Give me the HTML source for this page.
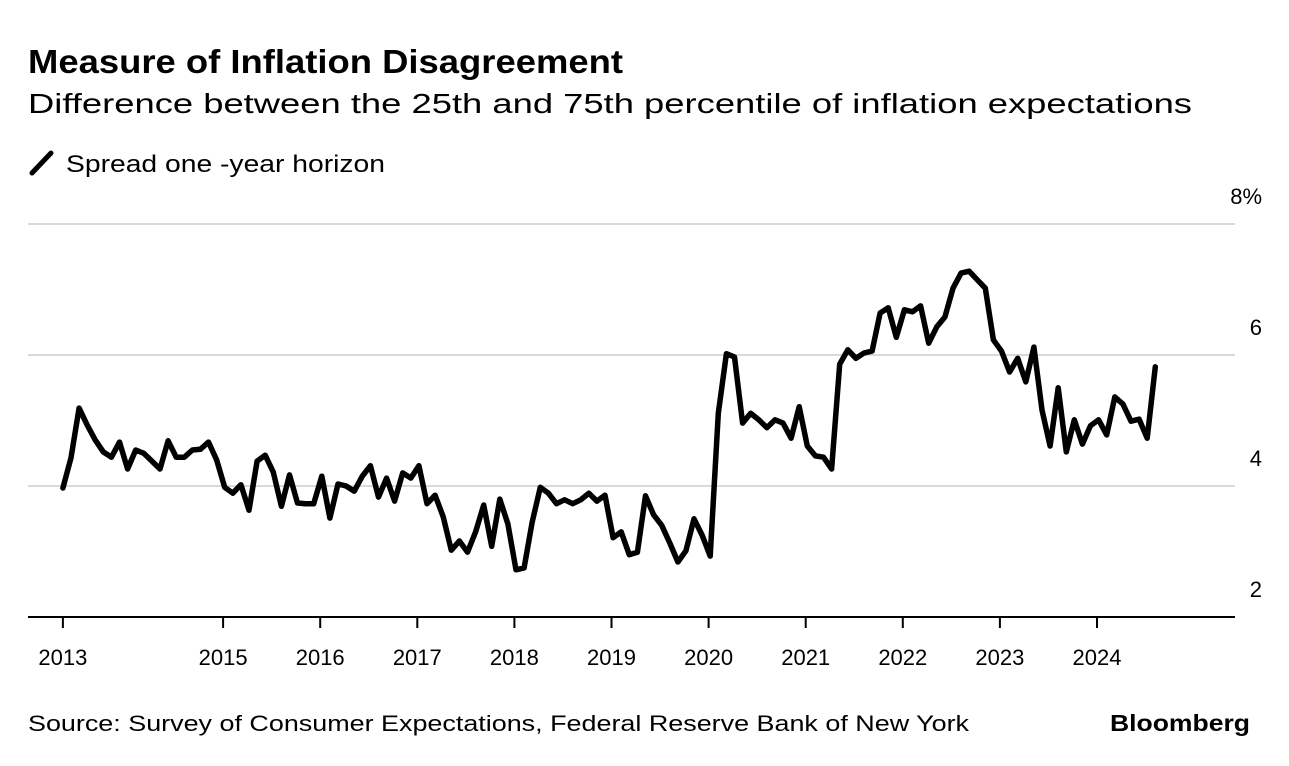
<!DOCTYPE html>
<html><head><meta charset="utf-8"><style>
html,body{margin:0;padding:0;background:#fff;}
svg{display:block;font-family:"Liberation Sans",Arial,sans-serif;}
</style></head><body>
<svg id="chart" width="1289" height="766" viewBox="0 0 1289 766">
<text x="28" y="73" font-size="33" font-weight="bold" fill="#000" textLength="595" lengthAdjust="spacingAndGlyphs">Measure of Inflation Disagreement</text>
<text x="28" y="113" font-size="28" fill="#000" textLength="1164" lengthAdjust="spacingAndGlyphs">Difference between the 25th and 75th percentile of inflation expectations</text>
<g>
<line x1="32" y1="173" x2="51" y2="153" stroke="#000" stroke-width="5" stroke-linecap="round"/>
<text x="66" y="172" font-size="24" fill="#000" textLength="319" lengthAdjust="spacingAndGlyphs">Spread one -year horizon</text>
</g>
<g id="grid"></g>
<g id="xaxis"></g>
<g id="yaxis"></g>
<path id="line" fill="none" stroke="#000" stroke-width="5.5" stroke-linejoin="round" stroke-linecap="round"/>
<text x="28" y="731" font-size="22" fill="#000" textLength="941" lengthAdjust="spacingAndGlyphs">Source: Survey of Consumer Expectations, Federal Reserve Bank of New York</text>
<text x="1250" y="731" font-size="23" font-weight="bold" fill="#000" text-anchor="end" textLength="140" lengthAdjust="spacingAndGlyphs">Bloomberg</text>
</svg>
<script>
const startYear = 2013.35;
const values = [3.97,4.43,5.19,4.93,4.70,4.52,4.44,4.67,4.26,4.55,
4.50,4.38,4.26,4.69,4.44,4.44,4.55,4.56,4.67,4.40,
3.98,3.89,4.02,3.63,4.38,4.47,4.21,3.69,4.17,3.74,
3.73,3.73,4.15,3.51,4.03,4.00,3.92,4.15,4.31,3.83,
4.12,3.77,4.20,4.12,4.31,3.73,3.86,3.53,3.02,3.16,
2.99,3.30,3.71,3.08,3.80,3.42,2.72,2.75,3.45,3.98,
3.89,3.73,3.79,3.73,3.79,3.89,3.77,3.86,3.21,3.30,
2.95,2.99,3.85,3.56,3.40,3.13,2.84,3.01,3.50,3.25,
2.93,5.11,6.02,5.97,4.96,5.11,5.01,4.89,5.01,4.96,
4.73,5.21,4.61,4.46,4.44,4.26,5.86,6.08,5.95,6.03,
6.06,6.64,6.72,6.27,6.69,6.66,6.75,6.18,6.43,6.58,
7.02,7.25,7.28,7.15,7.02,6.23,6.06,5.74,5.95,5.59,
6.12,5.16,4.61,5.50,4.52,5.01,4.64,4.92,5.01,4.78,
5.36,5.25,4.99,5.02,4.73,5.82];
const xTickYears = [2013.35,2015,2016,2017,2018,2019,2020,2021,2022,2023,2024];
const xTickLabels = ["2013","2015","2016","2017","2018","2019","2020","2021","2022","2023","2024"];
const yTicks = [2,4,6,8];
const yTickLabels = ["2","4","6","8%"];

const NS = "http://www.w3.org/2000/svg";
function xs(yr){ return 1097 + (yr - 2024) * 97.1; }
function ys(v){ return 617 - (v - 2) * 65.5; }
function mk(tag, attrs, parent){ const e=document.createElementNS(NS,tag); for(const k in attrs) e.setAttribute(k,attrs[k]); parent.appendChild(e); return e; }

const grid=document.getElementById('grid'), xa=document.getElementById('xaxis'), ya=document.getElementById('yaxis');
yTicks.forEach((t,i)=>{
  const y=ys(t);
  const l=mk('line',{x1:28,x2:1235,y1:y,y2:y,stroke:i===0?'#000':'#d9d9d9','stroke-width':2},grid);
  
  
  const tx=mk('text',{x:1262,y:y-20,'font-size':22,'text-anchor':'end',fill:'#000'},ya);
  tx.textContent=yTickLabels[i];
  
  
});
xTickYears.forEach((yr,i)=>{
  const x=xs(yr);
  const l=mk('line',{x1:x,x2:x,y1:617,y2:628,stroke:'#000','stroke-width':2},xa);
  
  
  const tx=mk('text',{x:x,y:665,'font-size':22,'text-anchor':'middle',fill:'#000'},xa);
  tx.textContent=xTickLabels[i];
  
  
});
let d='';
values.forEach((v,i)=>{ const x=xs(startYear+i/12), y=ys(v); d+=(i?'L':'M')+x.toFixed(1)+','+y.toFixed(1); });
document.getElementById('line').setAttribute('d',d);
</script>
</body></html>
